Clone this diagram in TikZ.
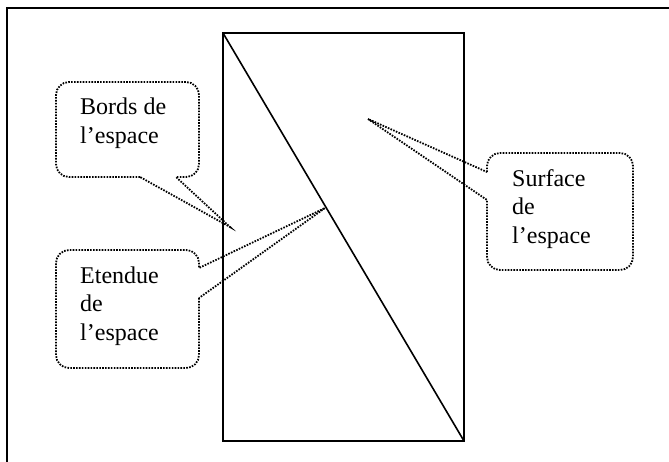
\documentclass[tikz,border=0pt]{standalone}
\usepackage{fontspec}
\setmainfont{Liberation Serif}
\usetikzlibrary{positioning}

\begin{document}
\begin{tikzpicture}[
    x=1pt, y=-1pt,
    frame/.style={line width=1.6pt, black},
    bubble/.style={line width=1.8pt, dash pattern=on 1.6pt off 1.3pt, black},
    label/.style={anchor=base west, align=left, inner sep=0pt, font=\fontsize{24}{28.5}\selectfont}
]
    \useasboundingbox (0,0) rectangle (669,461);
    % outer frame (cut on the right and bottom)
    \draw[frame] (7,470) -- (7,8) -- (680,8);
    % the space and its diagonal
    \coordinate (nw) at (223,33);
    \coordinate (se) at (464,441);
    \draw[frame] (nw) rectangle (se);
    \draw[frame] (nw) -- (se);

    % callout tips
    \coordinate (tipbords) at (230,227);
    \coordinate (tipetendue) at (325,208);
    \coordinate (tipsurface) at (368,119);

    % bubbles
    \draw[bubble] (140,177) [rounded corners=13pt] -- (56,177) -- (56,82) -- (199,82) -- (199,177) [sharp corners] -- (176,177) -- (tipbords) -- cycle;
    \draw[bubble] (199,298) [rounded corners=13pt] -- (199,368) -- (56,368) -- (56,250) -- (199,250) [sharp corners] -- (199,268) -- (tipetendue) -- cycle;
    \draw[bubble] (487,172) [rounded corners=13pt] -- (487,153) -- (633,153) -- (633,270) -- (487,270) [sharp corners] -- (487,200) -- (tipsurface) -- cycle;

    % texts (base = last line)
    \node[label] (bords) at (80,143) {Bords de\\l’espace};
    \node[label] (etendue) at (80,340) {Etendue\\de\\l’espace};
    \node[label] (surface) at (512,243) {Surface\\de\\l’espace};
\end{tikzpicture}
\end{document}
